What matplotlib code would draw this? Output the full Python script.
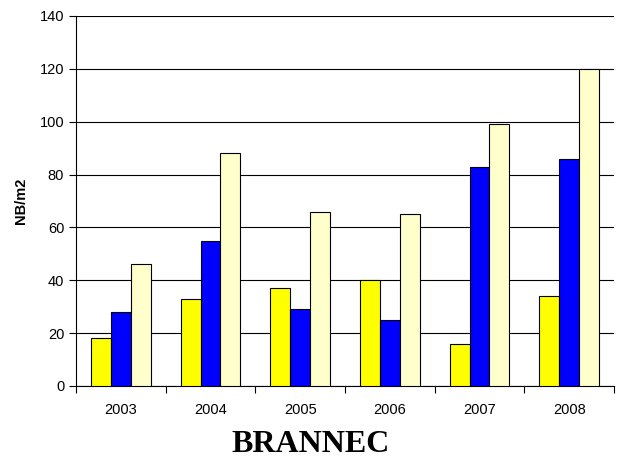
import matplotlib.pyplot as plt
import numpy as np

# donnees
annees = ['2003', '2004', '2005', '2006', '2007', '2008']
serie_jaune = [18, 33, 37, 40, 16, 34]
serie_bleue = [28, 55, 29, 25, 83, 86]
serie_creme = [46, 88, 66, 65, 99, 120]

plt.rcParams['font.family'] = ['Liberation Sans', 'DejaVu Sans']

fig = plt.figure(figsize=(6.22, 4.57), dpi=100)
ax = fig.add_axes([0.1222, 0.1554, 0.8650, 0.8096])

x = np.arange(len(annees))
w = 0.222
ax.bar(x - w, serie_jaune, w, color='#FFFF00', edgecolor='black', linewidth=0.8, zorder=3)
ax.bar(x, serie_bleue, w, color='#0000FF', edgecolor='black', linewidth=0.8, zorder=3)
ax.bar(x + w, serie_creme, w, color='#FFFFCC', edgecolor='black', linewidth=0.8, zorder=3)

ax.set_xlim(-0.5, len(annees) - 0.5)
ax.set_ylim(0, 140)
ax.set_yticks(range(0, 141, 20))
ax.yaxis.grid(True, color='black', linewidth=0.8, zorder=0)

# graduations entre les groupes
ax.set_xticks(np.arange(-0.5, len(annees), 1))
ax.set_xticklabels([])
ax.set_xticks(x, minor=True)
ax.set_xticklabels(annees, minor=True)
ax.tick_params(axis='x', which='major', length=5, width=0.8, direction='out')
ax.tick_params(axis='x', which='minor', length=0, pad=12, labelsize=10.5)
ax.tick_params(axis='y', length=5, width=0.8, labelsize=10.5)

for s in ['top', 'right']:
    ax.spines[s].set_visible(False)
for s in ['left', 'bottom']:
    ax.spines[s].set_linewidth(0.8)

ax.set_ylabel('NB/m2', fontweight='bold', fontsize=10.5, labelpad=8)

fig.text(0.5, 0.012, 'BRANNEC', ha='center', va='baseline',
         fontsize=23, fontweight='bold', family=['Liberation Serif', 'DejaVu Serif'])

fig.savefig('out.png', dpi=100)
